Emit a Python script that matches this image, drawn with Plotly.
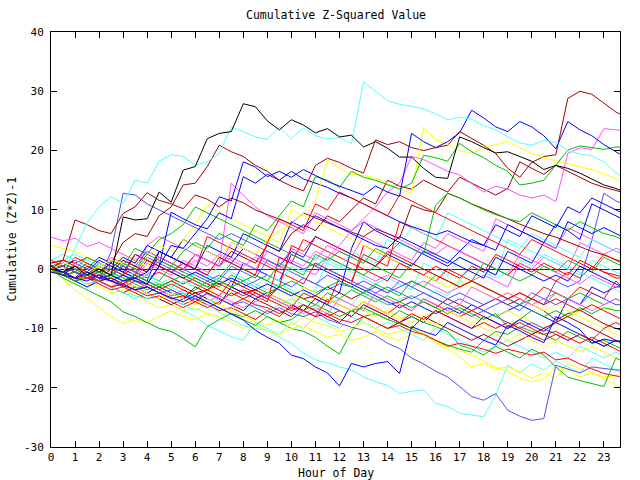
import plotly.graph_objects as go

# time grid (hours), half-hour samples plus the last reading
T = [0.0, 0.5, 1.0, 1.5, 2.0, 2.5, 3.0, 3.5, 4.0, 4.5, 5.0, 5.5,
     6.0, 6.5, 7.0, 7.5, 8.0, 8.5, 9.0, 9.5, 10.0, 10.5, 11.0, 11.5,
     12.0, 12.5, 13.0, 13.5, 14.0, 14.5, 15.0, 15.5, 16.0, 16.5, 17.0, 17.5,
     18.0, 18.5, 19.0, 19.5, 20.0, 20.5, 21.0, 21.5, 22.0, 22.5, 23.0, 23.5,
     23.75]

X_TICKS = list(range(24))
Y_TICKS = [-30, -20, -10, 0, 10, 20, 30, 40]

RED = "#ff0000"; GREEN = "#00c000"; BLUE = "#0000ff"; MAGENTA = "#ff50ff"
CYAN = "#50ffff"; DARKRED = "#a00000"; YELLOW = "#ffff00"; BLACK = "#000000"
SLATE = "#5050ff"

S01 = [0.5, -0.5, 0.5, -1.0, 0.0, -1.0, 8.8, 8.3, 8.5, 13.0, 11.3, 16.7,
       17.3, 22.0, 22.9, 23.2, 27.9, 27.4, 25.0, 23.5, 25.2, 24.3, 23.0, 23.7,
       22.3, 22.6, 20.6, 21.5, 20.4, 18.9, 18.9, 17.0, 15.5, 15.3, 22.3, 21.5,
       20.5, 19.6, 19.8, 19.0, 18.2, 16.8, 17.5, 17.0, 16.2, 15.2, 14.2, 13.6,
       13.2]
S02 = [1.0, -0.5, 3.5, 7.8, 10.5, 12.2, 11.1, 15.0, 14.5, 18.2, 19.3, 19.0,
       17.5, 18.1, 19.5, 24.0, 23.2, 22.3, 21.9, 24.0, 22.0, 23.8, 22.5, 22.0,
       22.2, 21.2, 31.6, 30.0, 28.4, 27.8, 27.5, 27.0, 26.2, 25.2, 25.6, 25.3,
       24.2, 23.5, 22.3, 21.3, 20.9, 21.7, 21.4, 20.0, 19.4, 19.1, 18.1, 16.3,
       15.6]
S03 = [0.0, -0.5, -1.5, 0.5, -0.5, 1.0, 4.5, 6.0, 5.5, 9.0, 10.5, 14.2,
       14.5, 17.3, 20.9, 19.8, 19.0, 17.5, 16.5, 15.0, 14.0, 13.2, 17.5, 18.7,
       18.0, 17.0, 16.2, 21.8, 21.0, 21.5, 20.5, 20.0, 20.5, 20.9, 23.2, 22.0,
       20.9, 19.5, 17.0, 15.5, 18.0, 19.0, 19.3, 28.8, 30.0, 29.5, 28.0, 26.5,
       26.0]
S04 = [1.0, 1.5, 8.3, 7.5, 6.5, 6.0, 9.4, 10.5, 12.9, 11.6, 11.0, 10.2,
       12.5, 11.8, 10.5, 12.0, 11.2, 10.0, 9.2, 8.4, 7.6, 9.5, 8.6, 7.8,
       7.0, 6.2, 5.5, 6.8, 6.0, 5.2, 10.8, 10.0, 9.6, 12.8, 12.0, 11.0,
       10.2, 9.4, 8.5, 7.6, 6.8, 6.0, 5.4, 4.6, 3.8, 3.0, 2.4, 1.6,
       1.2]
S05 = [-0.5, -1.0, -1.5, -0.5, -1.5, -2.0, -1.0, -2.0, -2.5, 0.5, 4.0, 3.5,
       6.0, 8.5, 12.2, 11.5, 18.1, 17.2, 15.6, 16.5, 15.5, 16.8, 15.8, 14.8,
       14.0, 13.2, 12.5, 14.0, 13.0, 12.3, 22.9, 21.5, 20.5, 21.5, 23.0, 26.8,
       25.5, 24.0, 23.2, 24.9, 24.0, 22.5, 20.3, 24.9, 23.5, 22.5, 21.0, 19.8,
       19.2]
S06 = [0.0, -0.5, -1.5, -2.0, -1.0, -2.0, -2.8, -3.5, -3.0, -4.0, -4.8, -5.5,
       -4.5, -5.5, -6.5, -7.5, -8.6, -10.3, -11.5, -12.5, -14.5, -15.1, -16.5, -17.5,
       -19.7, -15.9, -16.5, -15.9, -15.6, -17.6, -9.7, -10.5, -11.2, -9.0, -10.0, -11.0,
       -12.0, -12.8, -9.5, -10.4, -11.5, -12.4, -8.0, -9.0, -10.2, -12.5, -11.8, -12.2,
       -12.0]
S07 = [-0.5, -0.5, -1.5, -2.5, -2.0, -3.0, -4.0, -4.5, -5.0, -4.0, -5.0, -6.0,
       -7.0, -6.0, -7.2, -8.5, -9.5, -10.0, -10.3, -11.5, -12.5, -14.2, -15.3, -15.8,
       -16.5, -17.0, -18.2, -19.0, -19.6, -21.0, -20.6, -20.4, -22.6, -23.2, -24.3, -24.6,
       -24.9, -21.2, -16.2, -17.5, -16.0, -17.0, -15.5, -16.5, -17.5, -15.0, -16.0, -17.0,
       -17.5]
S08 = [0.5, 0.5, -0.5, -1.5, -1.0, -2.0, -2.5, -3.5, -3.0, -4.0, -3.5, -4.5,
       -5.0, -4.2, -5.0, -6.0, -5.5, -6.5, -7.5, -6.5, -7.5, -8.0, -7.2, -8.5,
       -9.2, -9.8, -10.3, -11.2, -12.5, -13.4, -15.0, -16.0, -17.2, -18.2, -19.8, -21.5,
       -22.1, -21.0, -23.8, -24.8, -25.5, -25.2, -16.2, -16.8, -17.5, -16.5, -16.8, -17.0,
       -17.0]
S09 = [0.0, -1.5, -2.5, -3.5, -4.5, -5.5, -7.2, -8.0, -9.0, -10.0, -10.5, -11.7,
       -13.1, -9.7, -8.5, -7.5, -8.5, -9.5, -8.0, -9.0, -8.5, -7.0, -6.0, -7.0,
       -8.0, -7.0, -6.5, -7.5, -8.5, -7.0, -8.0, -9.0, -9.7, -10.5, -12.8, -13.5,
       -14.5, -13.0, -14.0, -15.0, -13.5, -14.5, -16.5, -18.2, -18.8, -19.3, -19.8, -15.0,
       -15.5]
S10 = [0.0, 0.5, -0.5, -1.0, -2.0, -1.5, -2.5, -3.5, -2.5, -3.5, -4.5, -4.0,
       -5.0, -5.5, -6.5, -7.5, -8.0, -7.0, -8.0, -9.0, -10.0, -10.5, -11.5, -13.0,
       -14.3, -10.5, -8.0, -7.5, -8.5, -9.2, -10.0, -11.0, -12.0, -12.8, -13.5, -14.0,
       -12.0, -10.5, -11.0, -9.7, -10.5, -11.0, -12.0, -10.5, -11.5, -12.5, -12.0, -13.0,
       -13.5]
S11 = [0.0, -1.8, -3.5, -4.9, -6.4, -8.0, -9.2, -8.5, -9.0, -8.0, -7.0, -8.0,
       -8.5, -7.5, -8.0, -9.0, -10.0, -9.5, -10.5, -11.0, -10.0, -9.5, -10.5, -11.5,
       -11.0, -12.0, -11.5, -10.5, -11.5, -12.0, -11.0, -10.5, -12.5, -13.5, -14.8, -16.5,
       -15.9, -16.8, -16.5, -17.3, -18.4, -17.5, -18.4, -15.9, -16.8, -17.5, -18.2, -18.0,
       -17.5]
S12 = [0.5, -0.5, -1.5, -2.5, -3.0, -4.0, -3.5, -4.5, -5.5, -6.5, -6.0, -7.0,
       -6.5, -7.5, -8.0, -7.0, -8.0, -8.8, -9.5, -8.5, -9.5, -8.0, -9.0, -9.5,
       -10.5, -10.0, -9.0, -10.0, -11.0, -10.5, -9.7, -11.0, -12.5, -13.0, -13.7, -14.5,
       -15.5, -16.5, -17.3, -18.4, -19.0, -18.5, -16.5, -17.0, -18.2, -17.5, -18.5, -19.5,
       -20.0]
S13 = [0.0, 1.0, 0.5, -0.5, 0.5, 1.5, 1.0, 0.0, 2.0, 4.0, 3.0, 5.0,
       4.0, 3.0, 2.0, 4.5, 3.5, 2.5, 5.0, 6.5, 7.5, 9.5, 11.5, 18.4,
       17.0, 16.0, 15.8, 15.4, 14.4, 13.5, 12.8, 24.0, 21.8, 21.0, 20.0, 19.5,
       20.5, 21.0, 21.5, 20.5, 19.5, 18.8, 18.3, 17.8, 17.3, 16.8, 16.1, 15.3,
       14.7]
S14 = [5.4, 4.8, 5.2, 3.8, 4.5, 3.5, 2.5, 1.5, 3.0, 2.0, 1.0, 0.0,
       1.5, 0.5, 2.5, 1.5, 0.5, 2.0, 1.0, 0.0, 1.5, 0.5, 3.0, 2.0,
       4.0, 6.5, 8.5, 10.5, 13.0, 14.5, 19.0, 18.5, 17.5, 16.5, 15.9, 14.5,
       13.0, 14.0, 13.5, 12.5, 12.0, 12.5, 11.4, 19.5, 20.5, 20.2, 23.7, 23.5,
       23.4]
S15 = [0.0, 0.5, -0.5, -1.5, -1.0, 0.5, -0.5, -1.5, 1.0, 0.0, -1.0, 1.5,
       0.5, -0.5, 1.0, 14.5, 12.5, 10.5, 9.0, 8.0, 7.0, 6.0, 9.5, 8.5,
       7.5, 6.5, 8.0, 7.0, 6.0, 5.0, 4.0, 3.0, 2.5, 4.0, 3.0, 2.0,
       1.0, 0.0, -1.0, 2.5, 1.5, 0.5, -0.5, -1.5, -2.5, -1.0, -2.0, -3.0,
       -3.2]
S16 = [0.0, -1.0, -2.0, -1.0, -0.5, -1.5, 1.0, 0.0, 2.5, 1.5, 0.5, 3.0,
       4.5, 3.5, 6.0, 5.0, 4.0, 7.5, 6.5, 9.0, 11.5, 10.5, 15.6, 15.0,
       13.8, 16.5, 15.5, 15.0, 14.2, 13.5, 14.5, 19.2, 18.8, 18.2, 21.2, 19.8,
       18.8, 17.5, 16.5, 14.2, 14.5, 15.0, 17.5, 20.1, 20.8, 20.5, 20.2, 20.6,
       20.6]
S17 = [0.0, -0.5, 0.5, -0.5, -1.5, -1.0, -2.0, -1.5, -2.5, 0.5, 9.6, 8.5,
       7.5, 6.8, 9.5, 8.5, 15.6, 14.5, 16.0, 15.0, 16.5, 15.2, 14.5, 13.8,
       12.8, 12.0, 11.0, 10.0, 9.0, 8.0, 7.2, 6.5, 5.8, 6.5, 5.5, 4.6,
       4.0, 3.2, 7.5, 6.5, 5.5, 4.5, 7.5, 6.5, 5.0, 11.0, 10.0, 9.0,
       8.5]
S18 = [1.0, 1.5, 1.0, 2.0, 1.0, 0.0, -1.0, 0.5, -0.5, 3.0, 2.0, 1.0,
       0.0, 5.5, 4.5, 3.5, 2.5, 1.5, 0.5, -0.5, -1.5, -2.5, 1.0, 0.0,
       -1.0, -2.0, 2.5, 1.5, 0.5, 8.0, 7.0, 6.0, 5.0, 4.0, 3.0, 2.0,
       1.0, 0.0, -1.0, 1.0, 0.0, -1.0, -2.0, -0.5, -1.5, 0.5, -0.5, -1.0,
       -1.3]
S19 = [-0.5, -0.5, -1.5, -1.0, -2.0, -3.0, -2.5, -3.5, -4.5, -4.0, -5.0, -4.5,
       -5.5, -6.5, -5.5, -4.0, -5.0, -6.0, -6.5, -7.5, -6.5, -7.0, -8.0, -7.5,
       -8.5, -9.0, -8.0, -9.0, -10.0, -9.5, -10.5, -11.0, -12.0, -13.0, -12.5, -13.0,
       -13.5, -14.2, -13.5, -14.0, -14.5, -14.0, -15.3, -15.0, -16.0, -16.8, -17.6, -18.0,
       -18.2]
S20 = [0.0, -1.0, -0.5, -1.5, -2.0, -1.5, -2.5, -1.0, -2.0, -3.0, -2.0, -3.0,
       -4.0, -3.5, -2.0, -3.0, -4.0, -3.5, -4.5, -3.0, -4.0, -5.0, -4.5, -5.5,
       -4.0, -5.0, -4.0, -5.0, -6.0, -5.5, -4.5, -5.5, -6.5, -5.0, -6.0, -7.0,
       -6.0, -5.0, -6.0, -5.0, -6.0, -7.0, -8.6, -7.5, -6.9, -8.0, -9.2, -10.0,
       -10.3]
S21 = [0.5, 1.0, 0.0, -1.0, 0.5, -0.5, 1.5, 0.5, -0.5, 2.0, 1.0, 0.0,
       2.5, 1.5, 0.5, 3.0, 2.0, 1.0, 4.0, 3.0, 6.0, 7.5, 6.5, 9.0,
       8.0, 10.0, 12.0, 11.0, 15.0, 14.0, 13.5, 15.0, 14.0, 13.0, 15.5, 14.5,
       13.5, 12.5, 13.6, 18.1, 17.0, 16.0, 17.5, 16.5, 15.5, 14.5, 13.8, 13.2,
       13.0]
S22 = [0.0, -0.5, -1.5, -1.0, 0.5, -0.5, 1.5, 0.5, 3.0, 2.0, 1.0, 0.0,
       -1.0, -2.0, -1.0, -2.0, -3.0, -2.0, -1.0, -2.0, -3.0, -1.5, -2.5, -3.5,
       -2.5, -3.0, -2.0, -3.0, -4.0, -3.0, -2.0, -3.0, -4.0, -5.0, -4.0, -5.0,
       -6.0, -5.0, -6.0, -7.0, -5.0, -6.0, -2.0, -3.0, -2.0, 4.9, 12.8, 11.5,
       11.1]
S23 = [0.0, 0.5, 1.5, 0.5, -0.5, 0.5, -0.5, 2.5, 1.5, 0.5, -0.5, -1.5,
       -0.5, -1.5, -2.5, -1.5, -2.5, -3.5, -2.5, -3.5, -4.5, -3.5, -4.5, -3.0,
       -4.0, 3.5, 8.0, 6.5, 5.5, 4.5, 3.5, 2.5, 1.5, 0.5, 2.0, 1.0,
       0.0, -1.0, 3.0, 2.0, 1.0, 4.5, 3.5, 8.0, 7.0, 6.0, 7.0, 6.0,
       5.5]
S24 = [1.5, 2.5, 1.5, 0.5, -0.5, -1.5, -1.0, -2.0, -3.0, -2.0, -3.0, -4.0,
       -5.0, -6.0, -5.0, -6.0, -7.0, -6.0, -7.0, -6.0, -5.0, -6.0, -7.0, -6.0,
       -5.0, -6.0, -4.0, -5.0, -6.0, -5.0, -4.5, -5.5, -3.5, -4.5, -2.0, 0.5,
       -0.5, -1.5, -0.5, 1.5, 0.5, 2.5, 1.5, 0.5, -0.5, -1.5, -2.5, -3.5,
       -4.0]
S25 = [0.0, -1.0, -0.5, 1.0, 0.0, -1.0, -2.0, -1.0, -2.0, -3.0, -2.0, -1.0,
       -2.0, -3.0, -2.0, -3.0, -2.0, -1.0, -2.0, 1.0, 0.0, -1.0, 2.5, 1.5,
       3.0, 2.0, 1.0, 3.5, 2.5, 4.5, 3.5, 2.5, 10.8, 12.8, 12.0, 11.0,
       10.0, 9.2, 8.5, 8.0, 9.5, 8.5, 7.5, 6.5, 8.0, 7.0, 6.0, 5.5,
       5.0]
S26 = [0.0, -1.0, -1.5, -2.5, -2.0, -3.0, -2.0, -1.0, 4.0, 5.5, 4.5, 3.5,
       2.5, 1.5, 0.5, 2.0, 1.0, 0.0, 3.0, 2.0, 1.0, 0.0, -1.0, 2.0,
       1.0, 0.0, -1.0, -2.0, -1.0, -2.0, -3.0, -2.0, -3.0, -4.0, -3.0, -2.0,
       -1.0, -2.0, -3.0, 1.0, 0.0, 2.0, 1.0, 0.0, 4.5, 3.5, 2.5, 3.5,
       3.2]
S27 = [0.0, -1.0, -2.0, -1.5, -2.5, -3.5, -3.0, -4.0, -5.0, -4.5, -5.5, -6.5,
       -5.5, -4.0, -5.0, -6.0, -5.0, -4.0, -5.0, -6.0, -7.0, -6.0, -7.0, -8.0,
       -7.0, -8.0, -6.0, -7.0, -8.0, -9.0, -7.5, -8.5, -7.0, -8.0, -9.0, -10.0,
       -9.0, -10.0, -9.0, -10.0, -11.0, -12.0, -11.0, -12.0, -11.0, -12.0, -10.0, -9.0,
       -9.5]
S28 = [0.0, -1.0, 1.0, 0.0, 2.0, 1.0, 0.0, -1.0, -2.0, 3.0, 2.0, 1.0,
       0.0, -1.0, -2.0, -3.0, 1.0, 0.0, -1.0, -2.0, 2.5, 1.5, 0.5, -0.5,
       -1.5, -2.5, -3.5, -4.5, -5.5, -6.5, -5.5, -6.5, -7.5, -6.5, -7.5, -6.0,
       -7.0, -8.0, -7.0, -6.0, -7.0, -8.0, -9.0, -5.0, -6.0, -3.0, -4.0, -3.0,
       -3.0]
S29 = [4.0, 3.5, 3.0, 2.0, 1.0, 0.0, -1.0, -2.0, -1.0, -2.0, -3.0, -2.0,
       -3.0, -4.0, -3.0, -4.0, -5.0, -4.0, -5.0, -6.0, -5.0, -6.0, -7.0, -6.0,
       -5.0, -6.0, -7.0, -8.0, -7.0, -8.0, -9.0, -8.0, -7.0, -6.0, -7.0, -8.0,
       -9.0, -8.0, -7.0, -8.0, -9.0, -10.0, -9.0, -8.0, -7.0, -6.0, -7.0, -6.0,
       -6.0]
S30 = [0.0, -1.0, -2.0, -3.0, -2.0, -3.0, -4.0, -5.0, -4.0, -5.0, -6.0, -7.0,
       -8.0, -9.5, -10.5, -11.4, -12.0, -9.0, -10.0, -11.0, -9.0, -10.0, -8.0, -9.0,
       -10.0, -8.0, -9.0, -10.0, -9.0, -10.0, -11.0, -12.0, -10.0, -11.0, -12.0, -13.0,
       -14.0, -13.0, -12.0, -13.0, -14.0, -15.0, -14.0, -15.0, -13.0, -14.0, -15.0, -14.0,
       -14.5]
S31 = [0.5, 1.0, 0.0, -1.0, 0.5, -0.5, -1.5, -2.5, -3.5, -2.5, -3.5, -4.5,
       -3.5, -2.0, -3.0, -1.0, -2.0, -3.0, -4.0, -3.0, -4.0, -5.0, -6.0, -4.0,
       -5.0, -3.5, -4.5, -5.5, -4.5, -5.5, -6.5, -5.5, -6.5, -7.5, -6.5, -7.5,
       -8.5, -7.5, -9.7, -8.5, -7.0, -8.0, -7.0, -8.0, -6.5, -7.5, -6.5, -7.0,
       -7.0]
S32 = [0.0, 0.5, -0.5, 1.0, 0.0, -1.0, 0.5, -0.5, -1.5, -0.5, -1.5, -2.5,
       -1.5, -2.5, -3.5, -4.5, -3.5, -4.5, -5.5, 2.0, 1.0, 5.0, 4.0, 3.0,
       2.0, 1.0, 0.0, -1.0, -2.0, 1.0, 0.0, -1.0, 0.5, -0.5, -1.5, 0.5,
       -0.5, 2.5, 1.5, 0.5, -0.5, 1.0, 0.0, -1.0, 1.5, 0.5, -0.5, -1.5,
       -1.5]
S33 = [0.0, -1.0, -2.0, -1.0, 1.0, 0.0, 2.0, 1.0, 4.0, 3.0, 2.0, 5.0,
       4.0, 3.0, 2.0, 1.0, 3.5, 2.5, 1.5, 0.5, 3.0, 2.0, 5.5, 4.5,
       3.5, 2.5, 1.5, 0.5, 2.5, 1.5, 0.5, 3.0, 2.0, 1.0, 3.0, 5.0,
       4.0, 7.5, 6.5, 5.5, 9.0, 8.0, 7.0, 10.5, 9.5, 12.0, 11.0, 10.0,
       9.5]
S34 = [0.0, -1.0, -2.0, -1.0, -2.0, 3.0, 12.8, 12.5, 11.0, 10.0, 9.0, 8.0,
       7.0, 6.0, 5.0, 6.0, 5.0, 4.0, 3.0, 2.0, 1.0, 0.0, 1.0, 0.0,
       -1.0, -2.0, -3.0, -4.0, -3.0, -4.0, -5.0, -4.0, -5.0, -6.0, -7.0, -8.0,
       -7.0, -8.0, -9.0, -10.0, -9.0, -10.0, -11.0, -12.0, -11.0, -12.0, -13.0, -12.0,
       -12.5]
S35 = [0.0, 1.0, 0.0, -1.0, 0.5, -0.5, 2.5, 1.5, 0.5, 3.0, 2.0, 5.0,
       7.5, 10.8, 9.5, 8.5, 7.5, 6.5, 5.5, 4.5, 10.0, 9.0, 8.0, 7.0,
       6.0, 5.0, 4.0, 3.0, 2.0, 1.0, 0.0, -1.0, -2.0, -3.0, -2.0, -3.0,
       -4.0, -5.0, -4.0, -5.0, -6.0, -7.0, -6.0, -7.0, -8.0, -9.0, -10.0, -11.0,
       -11.5]
S36 = [0.0, -0.5, 2.0, 1.0, 0.0, -1.0, -2.0, -1.0, 1.5, 0.5, -0.5, -1.5,
       -2.5, -3.5, -2.5, -3.5, -4.5, -3.5, -4.5, -5.5, -6.5, -4.0, -5.0, -6.0,
       -1.5, -2.5, 4.0, 3.0, 2.0, 1.0, 0.0, -1.0, -2.0, 0.0, -1.0, -2.0,
       -3.0, -4.0, -5.0, -4.0, -5.0, -3.0, -4.0, -5.0, -3.0, -4.0, -5.0, -2.0,
       -3.0]
S37 = [0.0, -1.0, 0.5, -0.5, -1.5, 1.5, 0.5, 3.5, 2.5, 5.0, 6.0, 7.5,
       10.5, 9.5, 8.5, 7.5, 6.5, 5.5, 4.5, 3.5, 2.5, 1.5, 0.5, 2.0,
       1.0, 0.0, -1.0, 0.5, -0.5, -1.5, 1.0, 0.0, -1.0, -2.0, -3.0, -2.0,
       -3.0, -4.0, -5.0, -6.0, -5.0, -6.0, -4.0, -5.0, -4.0, -5.0, -6.0, -5.0,
       -5.5]
S38 = [0.0, 1.5, 0.5, -0.5, -1.5, 0.0, -1.0, 2.5, 1.5, 0.5, -0.5, 1.0,
       0.0, -1.0, 2.0, 1.0, 0.0, -1.0, 4.5, 8.5, 7.5, 6.5, 11.0, 10.0,
       13.0, 12.0, 11.0, 10.0, 9.0, 12.5, 11.5, 10.5, 9.5, 8.5, 7.5, 6.5,
       5.5, 4.5, 3.5, 2.5, 5.0, 4.0, 3.0, 2.0, 1.0, 0.0, 2.5, 1.5,
       1.0]
S39 = [0.0, 1.5, 2.5, 1.5, 0.5, -0.5, -1.5, -0.5, -1.5, -2.5, -1.5, -2.5,
       -0.5, -1.5, 0.5, -0.5, -1.5, -2.5, -3.5, -2.5, -3.5, -4.5, -3.5, 1.5,
       0.5, -0.5, -1.5, -2.5, -1.5, -2.5, -3.5, 1.0, 0.0, -1.0, 2.0, 1.0,
       0.0, -1.0, 5.0, 4.0, 3.0, 2.0, 1.0, 0.0, -1.0, 1.5, 0.5, -0.5,
       -1.0]
S40 = [0.0, -1.0, 1.0, 0.0, -1.0, 2.0, 1.0, 0.0, -1.0, 1.5, 0.5, -0.5,
       2.5, 1.5, 0.5, 4.5, 3.5, 2.5, 1.5, 0.5, 3.5, 2.5, 1.5, 4.0,
       3.0, 2.0, 5.5, 4.5, 3.5, 2.5, 1.5, 4.5, 3.5, 6.0, 5.0, 4.0,
       3.0, 8.5, 7.5, 6.5, 5.5, 4.5, 3.5, 7.0, 6.0, 5.0, 4.0, 3.0,
       2.8]
S41 = [1.5, 0.5, -0.5, -1.5, -1.0, -2.0, -3.0, -2.0, -3.0, -4.0, -5.0, -6.0,
       -5.0, -6.0, -7.0, -6.5, -7.5, -8.5, -7.0, -8.0, -6.0, -7.0, -8.0, -5.0,
       -6.0, -7.0, -5.5, -6.5, -7.5, -6.0, -7.0, -5.0, -6.0, -7.0, -8.0, -7.0,
       -8.0, -9.0, -10.0, -9.0, -10.0, -11.0, -10.5, -11.5, -12.5, -11.5, -12.5, -13.5,
       -14.0]
S42 = [0.0, 1.0, 0.0, 2.0, 1.0, 0.0, -1.0, -2.0, -1.0, -2.0, 0.5, -0.5,
       -1.5, -2.5, -1.5, 1.0, 0.0, -1.0, -2.0, -3.0, -2.0, -3.0, -4.0, -3.0,
       -2.0, -3.0, -4.0, -2.5, -3.5, -4.5, -2.0, -3.0, -1.0, -2.0, -3.0, -2.0,
       1.0, 0.0, -1.0, -2.0, -1.0, 0.5, -0.5, 1.5, 0.5, -0.5, 2.0, 1.0,
       0.5]
S43 = [0.0, -1.0, -2.0, -3.0, -2.0, -3.0, -2.0, -3.0, -4.0, -3.0, -4.0, -5.0,
       -4.0, -5.0, -6.0, -3.0, -4.0, -5.0, -4.0, -5.0, -6.0, -7.0, -5.0, -6.0,
       -7.0, -8.0, -6.0, -7.0, -8.0, -9.0, -8.0, -9.0, -7.0, -8.0, -9.0, -10.0,
       -8.0, -9.0, -10.0, -8.5, -9.5, -10.5, -9.0, -10.0, -11.0, -12.0, -13.0, -12.0,
       -12.5]
S44 = [0.0, -0.5, -1.5, -0.5, 1.0, 0.0, -1.0, -2.0, -1.0, -2.0, -3.0, -2.0,
       -3.0, -1.0, -2.0, -3.0, -2.0, -3.0, -1.0, -2.0, 0.5, -0.5, 2.0, 1.0,
       0.0, 3.0, 2.0, 1.0, 5.0, 4.0, 7.0, 6.0, 5.0, 9.5, 8.5, 7.5,
       6.5, 5.5, 4.5, 3.5, 6.0, 5.0, 4.0, 3.0, 2.0, 5.0, 4.0, 3.0,
       2.5]
S45 = [0.0, -1.0, -2.0, -1.0, -2.0, -3.0, -4.0, -3.0, -4.0, -5.0, -6.0, -5.0,
       -3.0, -4.0, -5.0, -6.0, -7.0, -5.0, -6.0, -7.0, -8.0, -6.0, -7.0, -8.0,
       -9.0, -7.0, -8.0, -9.0, -10.0, -9.0, -10.0, -8.0, -9.0, -10.0, -11.0, -12.0,
       -11.0, -12.0, -13.0, -12.0, -11.0, -10.0, -9.0, -8.0, -9.0, -10.0, -11.0, -12.0,
       -12.5]
S46 = [0.0, -1.0, -2.0, -1.0, -2.0, -3.0, -2.0, -3.0, -4.0, -5.0, -4.0, -5.0,
       -6.0, -5.0, -6.0, -7.0, -5.0, -6.0, -4.0, -5.0, -6.0, -3.0, -4.0, -5.0,
       -6.0, -7.0, -5.5, -6.5, -7.5, -8.5, -7.5, -8.5, -9.5, -7.0, -8.0, -9.0,
       -10.0, -11.0, -12.0, -11.0, -12.0, -13.0, -12.0, -13.0, -14.0, -13.0, -14.0, -15.0,
       -15.5]
S47 = [0.0, 1.0, 0.0, -1.0, -2.0, -1.0, 0.5, -0.5, 2.0, 1.0, 0.0, -1.0,
       -2.0, -3.0, -2.0, 0.5, -0.5, -1.5, 1.5, 0.5, -0.5, -1.5, -2.5, -1.0,
       -2.0, -3.0, -4.0, -3.0, -4.0, -2.0, -3.0, -4.0, -5.0, -6.0, -5.0, -6.0,
       -7.0, -6.0, -5.0, -6.0, -4.0, -5.0, -6.0, -5.0, -6.0, -4.0, -5.0, -6.0,
       -6.0]
S48 = [0.0, -1.0, -2.0, -1.0, -2.0, -3.0, -2.5, -3.5, -2.5, -3.5, -4.5, -3.5,
       -4.5, -5.5, -4.5, -5.5, -6.5, -5.5, -4.5, -5.5, -6.5, -7.5, -6.5, -7.5,
       -5.0, -6.0, -7.0, -4.0, -5.0, -6.0, -7.0, -5.0, -6.0, -7.0, -6.0, -3.0,
       -4.0, -5.0, -4.0, -5.0, -6.0, -5.0, -4.0, -5.0, -6.0, -7.0, -6.0, -5.0,
       -5.5]
S49 = [0.0, -1.0, 0.5, -0.5, 1.5, 0.5, -0.5, -1.5, -0.5, 3.0, 2.0, 1.0,
       0.0, 4.0, 3.0, 2.0, 6.0, 5.0, 4.0, 3.0, 8.0, 7.0, 9.0, 8.0,
       7.0, 6.0, 5.0, 4.0, 3.5, 5.5, 4.5, 3.5, 2.5, 1.5, 0.5, -0.5,
       -1.5, 2.0, 1.0, 0.0, -1.0, -2.0, -1.0, -2.0, 0.5, -0.5, -1.5, -2.5,
       -3.0]
S50 = [0.0, 0.5, -0.5, -1.5, -0.5, -1.5, -2.5, -1.5, -2.5, -3.5, -2.5, -3.5,
       -4.5, -3.5, -4.5, -2.0, -3.0, -4.0, -5.0, -3.0, 4.0, 3.0, 5.5, 4.5,
       3.5, 2.5, 1.5, 0.5, 3.0, 2.0, 1.0, 0.0, -1.0, -2.0, -3.0, -2.0,
       -3.0, -4.0, -5.0, -4.0, -5.0, -6.0, -5.0, -6.0, -7.0, -6.0, -7.0, -8.0,
       -8.5]

SERIES = [
    (S18, RED), (S10, GREEN), (S28, BLUE), (S26, MAGENTA), (S39, CYAN), (S20, DARKRED),
    (S29, YELLOW), (S22, SLATE), (S36, RED), (S31, GREEN), (S23, BLUE), (S15, MAGENTA),
    (S24, CYAN), (S21, DARKRED), (S35, YELLOW), (S34, SLATE), (S32, RED), (S37, GREEN),
    (S33, BLUE), (S40, MAGENTA), (S30, CYAN), (S04, DARKRED), (S12, YELLOW), (S47, SLATE),
    (S41, RED), (S42, GREEN), (S43, BLUE), (S48, MAGENTA), (S44, CYAN), (S45, DARKRED),
    (S46, YELLOW), (S49, BLUE), (S50, RED), (S27, RED), (S25, GREEN),
    (S17, BLUE), (S14, MAGENTA), (S07, CYAN), (S03, DARKRED), (S11, YELLOW), (S08, SLATE),
    (S19, RED), (S09, GREEN), (S06, BLUE), (S13, YELLOW), (S38, RED), (S16, GREEN),
    (S05, BLUE), (S02, CYAN), (S01, BLACK),
]

FONT = "DejaVu Sans Mono"

fig = go.Figure()
for vals, col in SERIES:
    fig.add_trace(go.Scatter(x=T, y=vals, mode="lines",
                             line=dict(color=col, width=1),
                             hoverinfo="skip", showlegend=False))

axis_common = dict(ticks="inside", ticklen=6, tickcolor="black", tickwidth=1,
                   showline=True, linecolor="black", linewidth=1, mirror="ticks",
                   showgrid=False, tickfont=dict(family=FONT, size=11, color="black"))

fig.update_xaxes(range=[0, 23.67], tickvals=X_TICKS, ticktext=[str(v) for v in X_TICKS],
                 zeroline=False, ticklabelstandoff=0, **axis_common)
fig.update_yaxes(range=[-30, 40], tickvals=Y_TICKS, ticktext=[str(v) for v in Y_TICKS],
                 zeroline=True, zerolinecolor=DARKRED, zerolinewidth=1,
                 ticklabelstandoff=4, **axis_common)

fig.update_layout(
    width=640, height=480,
    margin=dict(l=51, r=20, t=32, b=33),
    paper_bgcolor="white", plot_bgcolor="white",
    showlegend=False,
    font=dict(family=FONT, size=11, color="black"),
    annotations=[
        dict(text="Cumulative Z-Squared Value", xref="paper", yref="paper",
             x=0.5, y=1 + 17 / 415, xanchor="center", yanchor="middle",
             showarrow=False, font=dict(family=FONT, size=11.5)),
        dict(text="Hour of Day", xref="paper", yref="paper",
             x=0.5, y=-26 / 415, xanchor="center", yanchor="middle",
             showarrow=False, font=dict(family=FONT, size=11.5)),
        dict(text="Cumulative (Z*Z)-1", xref="paper", yref="paper",
             x=-40 / 569, y=0.5, xanchor="center", yanchor="middle", textangle=-90,
             showarrow=False, font=dict(family=FONT, size=11.5)),
    ],
)

# drop the page's default body margin so the 640x480 figure fills the window
fig.write_html("out.html", config={"displayModeBar": False},
               post_script="document.body.style.margin='0';")
